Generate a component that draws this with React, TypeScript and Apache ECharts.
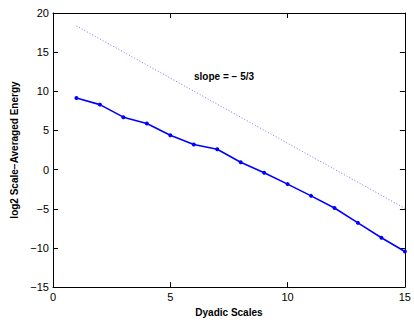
import React, { useEffect, useRef } from "react";
import * as echarts from "echarts";

const scales = [1, 2, 3, 4, 5, 6, 7, 8, 9, 10, 11, 12, 13, 14, 15];
const energy = [9.15, 8.3, 6.7, 5.9, 4.4, 3.2, 2.6, 0.95, -0.4, -1.85, -3.35, -4.9, -6.8, -8.7, -10.45];
const refX = [1, 15];
const refY = [18.35, -4.95];
const slopeText = "slope = \u2212 5/3";

const minus = (v: number) => String(v).replace("-", "\u2212");

export default function App() {
  const ref = useRef<HTMLDivElement>(null);
  useEffect(() => {
    const chart = echarts.init(ref.current!, null, { renderer: "svg" });
    const font = "Liberation Sans, Arial, Helvetica, sans-serif";
    const axisCommon = {
      axisLine: { show: true, onZero: false, lineStyle: { color: "#000", width: 1 } },
      axisTick: { show: true, inside: true, length: 5, lineStyle: { color: "#000" } },
      splitLine: { show: false },
    };
    chart.setOption({
      animation: false,
      backgroundColor: "#fff",
      grid: { left: 53, top: 13, right: 7, bottom: 27 },
      xAxis: [
        {
          type: "value", min: 0, max: 15, interval: 5, position: "bottom",
          ...axisCommon,
          axisLabel: { color: "#000", fontSize: 11, fontFamily: font, margin: 4 },
          name: "Dyadic Scales", nameLocation: "middle", nameGap: 15,
          nameTextStyle: { color: "#000", fontSize: 10, fontWeight: "bold", fontFamily: font },
        },
        {
          type: "value", min: 0, max: 15, interval: 5, position: "top",
          ...axisCommon, axisLabel: { show: false },
        },
      ],
      yAxis: [
        {
          type: "value", min: -15, max: 20, interval: 5, position: "left",
          ...axisCommon,
          axisLabel: { color: "#000", fontSize: 11, fontFamily: font, margin: 4, formatter: minus },
          name: "log2 Scale\u2212Averaged Energy", nameLocation: "middle", nameGap: 23,
          nameTextStyle: { color: "#000", fontSize: 10, fontWeight: "bold", fontFamily: font },
        },
        {
          type: "value", min: -15, max: 20, interval: 5, position: "right",
          ...axisCommon, axisLabel: { show: false },
        },
      ],
      series: [
        {
          type: "line",
          data: refX.map((x, i) => [x, refY[i]]),
          showSymbol: false,
          lineStyle: { color: "#7777ff", width: 1, type: [1, 2] },
        },
        {
          type: "line",
          data: scales.map((x, i) => [x, energy[i]]),
          symbol: "circle",
          symbolSize: 4,
          itemStyle: { color: "#0000ff" },
          lineStyle: { color: "#0000ff", width: 1.6 },
        },
      ],
      graphic: [
        {
          type: "text", left: 194, top: 71,
          style: { text: slopeText, fill: "#000", font: `bold 10px ${font}` },
        },
      ],
    });
    return () => chart.dispose();
  }, []);
  return <div ref={ref} style={{ position: "absolute", left: 0, top: 0, width: 414, height: 322 }} />;
}
